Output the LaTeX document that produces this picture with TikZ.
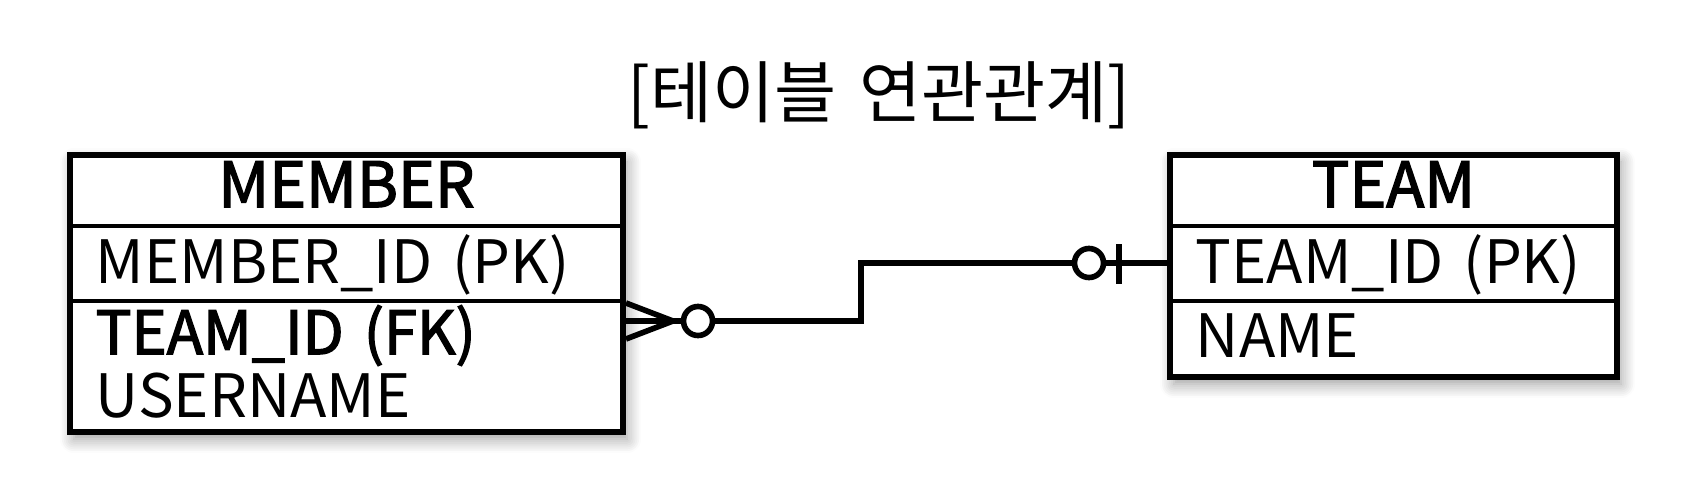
\documentclass[tikz,border=0pt]{standalone}
\usepackage{fontspec}
\setmainfont[WordSpace=1.5]{Noto Sans CJK KR}
\newfontfamily\semibold[WordSpace=1.5, FakeBold=2.2]{Noto Sans CJK KR}
\usetikzlibrary{calc, shadows.blur}

\tikzset{
  tableframe/.style = {draw, line width=1.6pt, fill=white, inner sep=0pt,
    blur shadow={shadow xshift=0.04cm, shadow yshift=-0.07cm, shadow blur radius=0.14cm, shadow blur steps=8, shadow opacity=40}},
  divider/.style = {line width=1.2pt},
  rowtext/.style = {inner sep=0pt, anchor=base west, font=\fontsize{17}{18}\selectfont},
  headtext/.style = {inner sep=0pt, anchor=base, font=\fontsize{17.8}{18}\selectfont\semibold},
  conn/.style = {line width=1.6pt},
  optcircle/.style = {circle, draw, line width=1.6pt, minimum size=0.29cm, inner sep=0pt, fill=white}
}

\begin{document}
\begin{tikzpicture}[x=0.01cm, y=-0.01cm]
\useasboundingbox (0,0) rectangle (1706,500);

\node[font=\fontsize{19.2}{22}\selectfont] (title) at (879,95) {[테이블 연관관계]};

% MEMBER
\node[tableframe, minimum width=5.53cm, minimum height=2.77cm] (member) at (346.5,293.5) {};
\draw[divider] ($(member.north west)+(0,74)$) -- ($(member.north east)+(0,74)$);
\draw[divider] ($(member.north west)+(0,149)$) -- ($(member.north east)+(0,149)$);
\node[headtext] (memberhead) at ($(member.north)+(0,55)$) {MEMBER};
\node[rowtext] (memberpk) at ($(member.north west)+(28,131)$) {MEMBER\_ID (PK)};
\node[rowtext] (memberfk) at ($(member.north west)+(28,202)$) {\semibold TEAM\_ID (FK)};
\node[rowtext] (membername) at ($(member.north west)+(28,265)$) {USERNAME};

% TEAM
\node[tableframe, minimum width=4.47cm, minimum height=2.22cm] (team) at (1393.5,266) {};
\draw[divider] ($(team.north west)+(0,74)$) -- ($(team.north east)+(0,74)$);
\draw[divider] ($(team.north west)+(0,149)$) -- ($(team.north east)+(0,149)$);
\node[headtext] (teamhead) at ($(team.north)+(0,55)$) {TEAM};
\node[rowtext] (teampk) at ($(team.north west)+(28,131)$) {TEAM\_ID (PK)};
\node[rowtext] (teamname) at ($(team.north west)+(28,205)$) {NAME};

\coordinate (crow) at (673,321);
\coordinate (elbow) at (861,292);
\coordinate (tbar) at (1119,263);
\node[optcircle] (mcircle) at (698,321) {};
\node[optcircle] (tcircle) at (1089,263) {};

\draw[conn] (member.east |- crow) -- (mcircle);
\draw[conn] ($(member.east |- crow)+(0,-18)$) -- (crow) -- ($(member.east |- crow)+(0,18)$);
\draw[conn] (mcircle) -| (elbow) |- (tcircle);
\draw[conn] (tcircle) -- (tcircle -| team.west);
\draw[conn] ($(tbar)+(0,-19)$) -- ($(tbar)+(0,21)$);

\end{tikzpicture}
\end{document}
